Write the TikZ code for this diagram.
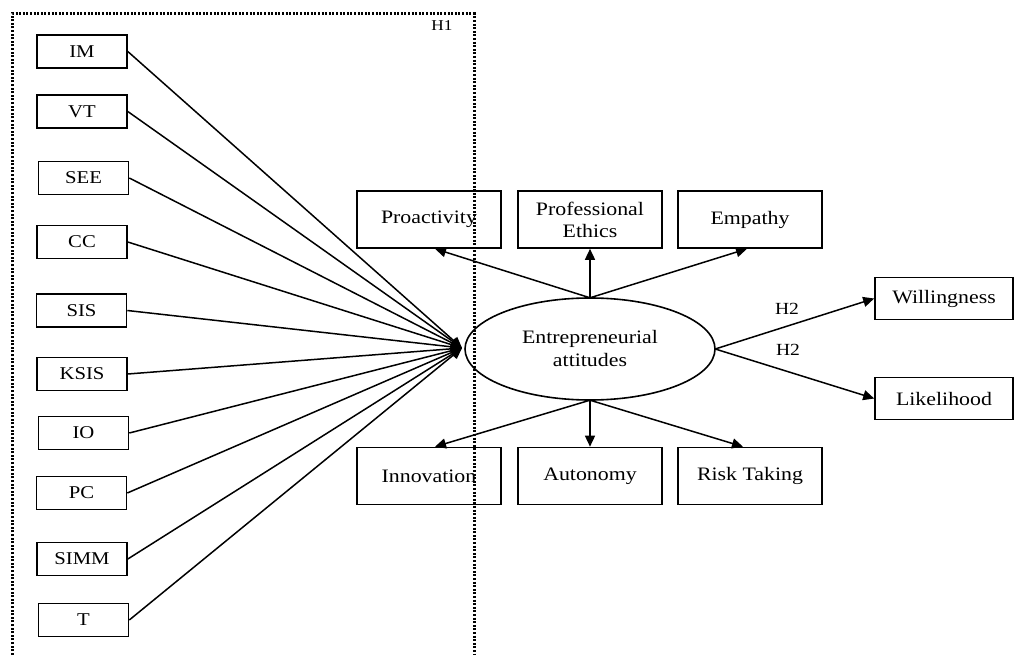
\documentclass[tikz,border=0pt]{standalone}
\usepackage{fontspec}
\setmainfont{Liberation Serif}[FakeStretch=1.15]
\usetikzlibrary{arrows.meta,calc}
\begin{document}
\begin{tikzpicture}[x=1pt,y=-1pt,
  lbox/.style={draw, line width=1.6pt, minimum width=90pt, minimum height=33pt, inner sep=0pt, font=\fontsize{18}{20}\selectfont},
  abox/.style={draw, line width=1.6pt, minimum width=144pt, minimum height=57pt, inner sep=0pt, align=center, font=\fontsize{19}{22}\selectfont},
  rbox/.style={draw, line width=1.6pt, minimum width=138pt, minimum height=42pt, inner sep=0pt, font=\fontsize{19}{22}\selectfont},
  arr/.style={line width=1.5pt, -{Triangle[length=11pt,width=10pt]}},
  lbl/.style={font=\fontsize{17}{18}\selectfont, inner sep=0pt},
  group/.style={line width=3pt, dash pattern=on 2pt off 1.6pt}
]
\useasboundingbox (0,0) rectangle (1015,655);
% dotted group frame (H1)
\coordinate (gbl) at (12,662);
\coordinate (gtl) at (12,14);
\coordinate (gtr) at (474,14);
\coordinate (gbr) at (474,662);
\draw[group] (gbl) -- (gtl) -- (gtr) -- (gbr);
\node[font=\fontsize{15}{16}\selectfont, inner sep=0pt] (h1) at (442,26) {H1};

% left boxes
\node[lbox] (im)   at (82,51.5)   {IM};
\node[lbox] (vt)   at (82,111.5)  {VT};
\node[lbox] (see)  at (83.5,178)  {SEE};
\node[lbox] (cc)   at (82,242)    {CC};
\node[lbox] (sis)  at (81.5,310.5){SIS};
\node[lbox] (ksis) at (82,374)    {KSIS};
\node[lbox] (io)   at (83.5,433)  {IO};
\node[lbox] (pc)   at (81.5,493)  {PC};
\node[lbox] (simm) at (82,559)    {SIMM};
\node[lbox] (t)    at (83.5,620)  {T};

% central ellipse
\draw[line width=1.6pt] (590,349) ellipse [x radius=125pt, y radius=51pt];
\node[font=\fontsize{19}{23}\selectfont, align=center, minimum width=250pt, minimum height=102pt, inner sep=0pt] (ea) at (590,349) {Entrepreneurial\\attitudes};
\coordinate (hub) at (462,348);

% dimension boxes
\node[abox] (pro) at (429,219.5) {Proactivity};
\node[abox] (eth) at (590,219.5) {Professional\\Ethics};
\node[abox] (emp) at (750,219.5) {Empathy};
\node[abox] (inn) at (429,476) {Innovation};
\node[abox] (aut) at (590,476) {Autonomy};
\node[abox] (risk) at (750,476) {Risk Taking};

% outcomes
\node[rbox] (will) at (944,298.5) {Willingness};
\node[rbox] (like) at (944,398.5) {Likelihood};

% H1 connectors
\foreach \n in {im,vt,see,cc,sis,ksis,io,pc,simm,t}
  \draw[arr] (\n.east) -- (hub);

% dimension arrows
\draw[arr] (ea.north) -- ($(pro.south)+(6,0)$);
\draw[arr] (ea.north) -- (eth.south);
\draw[arr] (ea.north) -- ($(emp.south)+(-3,0)$);
\draw[arr] (ea.south) -- ($(inn.north)+(6,0)$);
\draw[arr] (ea.south) -- (aut.north);
\draw[arr] (ea.south) -- ($(risk.north)+(-7,0)$);

% H2 arrows
\draw[arr] (ea.east) -- (will.west);
\draw[arr] (ea.east) -- (like.west);
\node[lbl] (h2a) at (787,309) {H2};
\node[lbl] (h2b) at (788,350) {H2};
\end{tikzpicture}
\end{document}
